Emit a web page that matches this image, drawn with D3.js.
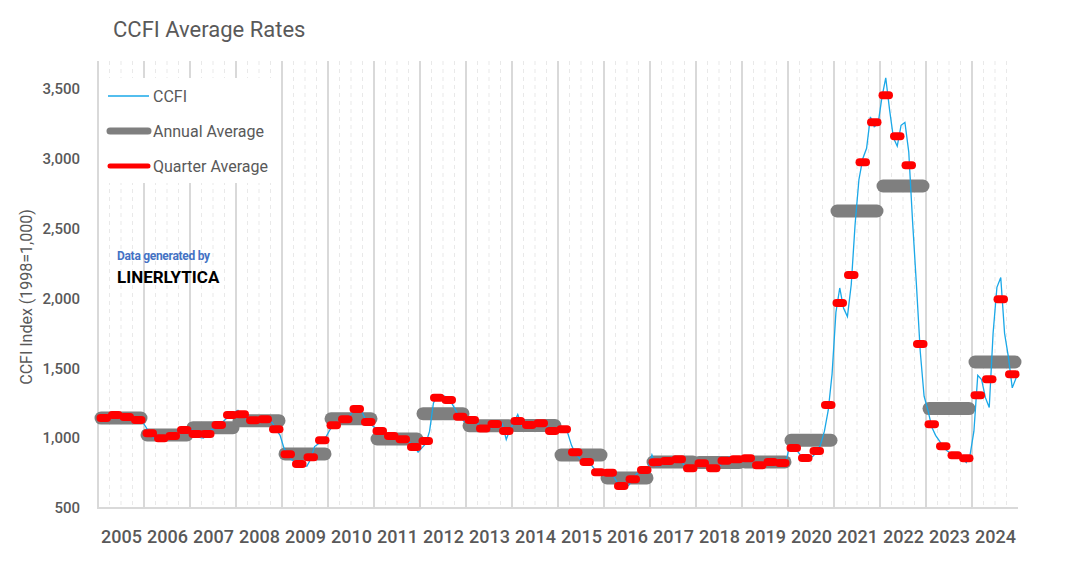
<!DOCTYPE html>
<html>
<head>
<meta charset="utf-8">
<script src="https://cdn.jsdelivr.net/npm/d3@7"></script>
<style>
  html, body { margin: 0; padding: 0; background: #fff; }
  svg { display: block; font-family: Roboto, "DejaVu Sans", sans-serif; }
</style>
</head>
<body>
<svg id="chart" width="1079" height="567"></svg>
<script>
// ---- data ----
const years = [2005,2006,2007,2008,2009,2010,2011,2012,2013,2014,2015,2016,2017,2018,2019,2020,2021,2022,2023,2024];
const yTicks = [500,1000,1500,2000,2500,3000,3500];
const annualAvg = [1144,1023,1075,1125,887,1139,994,1175,1089,1090,879,715,829,825,830,985,2626,2805,1212,1545];
const quarterAvg = [
  1144,1166,1152,1130,
  1035,999,1015,1058,
  1030,1030,1094,1166,
  1171,1128,1135,1063,
  884,815,863,985,
  1092,1135,1209,1116,
  1051,1015,992,937,
  980,1290,1273,1154,
  1130,1070,1101,1051,
  1123,1094,1106,1051,
  1063,899,829,756,
  753,658,705,772,
  827,836,849,784,
  820,784,839,849,
  856,806,829,822,
  930,858,908,1237,
  1968,2168,2975,3261,
  3455,3161,2953,1674,
  1099,942,877,856,
  1307,1421,1994,1457
];
const ccfiMonthly = [
  1150,1120,1160, 1160,1175,1165, 1160,1150,1145, 1140,1130,1120,
  1080,1030,1000, 995,1000,1000, 1005,1015,1025, 1050,1060,1065,
  1060,1025,1005, 1000,1030,1060, 1070,1095,1115, 1140,1170,1185,
  1200,1170,1145, 1130,1125,1130, 1135,1140,1130, 1110,1060,1020,
  930,880,845, 830,815,800, 800,850,940, 960,985,1010,
  1060,1100,1115, 1115,1135,1155, 1190,1225,1210, 1150,1110,1090,
  1070,1050,1035, 1025,1015,1005, 1000,990,985, 965,945,900,
  930,960,1050, 1250,1310,1310, 1300,1280,1240, 1190,1150,1120,
  1130,1135,1125, 1090,1070,1050, 1070,1110,1125, 1100,990,1065,
  1110,1170,1090, 1080,1095,1105, 1100,1115,1105, 1070,1040,1045,
  1070,1080,1040, 950,890,860, 830,840,815, 780,750,740,
  770,760,730, 680,650,645, 665,705,745, 760,770,790,
  880,800,800, 820,840,850, 870,860,820, 790,780,780,
  800,840,820, 800,770,780, 810,840,865, 860,845,840,
  870,850,850, 810,800,808, 820,835,830, 815,810,840,
  950,935,905, 870,850,855, 870,900,955, 1050,1200,1460,
  1900,2075,1930, 1870,2100,2530, 2850,3000,3075, 3300,3230,3250,
  3440,3580,3350, 3150,3090,3240, 3260,3050,2550, 2100,1620,1300,
  1200,1080,1020, 980,935,910, 890,870,870, 860,825,880,
  1050,1450,1420, 1290,1220,1750, 2080,2150,1750, 1580,1360,1430
];

(function () {
// ---- layout ----
const svg = d3.select("#chart");
const pL = 98, pR = 1018, pT = 61, pB = 508;
const x = d3.scaleLinear().domain([2005, 2025]).range([pL, pR]);
const y = d3.scaleLinear().domain([500, 3700]).range([pB, pT]);
const textCol = "#595959";

// quarterly dashed gridlines
const qLines = d3.range(0, 80).filter(i => i % 4 !== 0).map(i => 2005 + i / 4);
svg.append("g").selectAll("line").data(qLines).join("line")
  .attr("x1", d => x(d)).attr("x2", d => x(d))
  .attr("y1", pT).attr("y2", pB)
  .attr("stroke", "#e9e9e9").attr("stroke-width", 1).attr("stroke-dasharray", "4,4");

// yearly solid gridlines
svg.append("g").selectAll("line").data(years).join("line")
  .attr("x1", d => x(d)).attr("x2", d => x(d))
  .attr("y1", pT).attr("y2", pB)
  .attr("stroke", "#d9d9d9").attr("stroke-width", 2);

// baseline
svg.append("line").attr("x1", pL - 1).attr("x2", pR).attr("y1", pB).attr("y2", pB)
  .attr("stroke", "#d9d9d9").attr("stroke-width", 2);

// y axis
const yAxis = svg.append("g").attr("transform", `translate(${pL},0)`)
  .call(d3.axisLeft(y).tickValues(yTicks).tickFormat(d3.format(",")).tickSize(0).tickPadding(18));
yAxis.select(".domain").remove();
yAxis.selectAll("text").attr("fill", textCol).style("font-size", "15px").style("font-weight", "500")
  .style("font-family", "Roboto, sans-serif");

// x axis (labels centered in each year)
const xAxis = svg.append("g").attr("transform", `translate(0,${pB})`)
  .call(d3.axisBottom(x).tickValues(years.map(d => d + 0.5)).tickFormat(d => String(Math.floor(d))).tickSize(0).tickPadding(22));
xAxis.select(".domain").remove();
xAxis.selectAll("text").attr("fill", textCol).style("font-size", "18px").style("font-weight", "500")
  .style("font-family", "Roboto, sans-serif");

// annual average bars
svg.append("g").selectAll("line").data(annualAvg).join("line")
  .attr("x1", (d, i) => x(years[i]) + 3).attr("x2", (d, i) => x(years[i] + 1) - 3)
  .attr("y1", d => y(d)).attr("y2", d => y(d))
  .attr("stroke", "#7f7f7f").attr("stroke-width", 13).attr("stroke-linecap", "round");

// CCFI monthly line
const line = d3.line().x((d, i) => x(2005 + (i + 0.5) / 12)).y(d => y(d));
svg.append("path").datum(ccfiMonthly).attr("d", line)
  .attr("fill", "none").attr("stroke", "#1aa8e8").attr("stroke-width", 1.3);

// quarter average bars
svg.append("g").selectAll("line").data(quarterAvg).join("line")
  .attr("x1", (d, i) => x(2005 + i / 4) + 2.5).attr("x2", (d, i) => x(2005 + (i + 1) / 4) - 2.5)
  .attr("y1", d => y(d)).attr("y2", d => y(d))
  .attr("stroke", "#ff0000").attr("stroke-width", 8).attr("stroke-linecap", "round");

// legend
const lg = svg.append("g");
lg.append("rect").attr("x", 99).attr("y", 78).attr("width", 180).attr("height", 105).attr("fill", "#fff");
const legendItems = [
  { label: "CCFI", color: "#1aa8e8", w: 1.3, cy: 96 },
  { label: "Annual Average", color: "#7f7f7f", w: 7, cy: 131 },
  { label: "Quarter Average", color: "#ff0000", w: 5, cy: 166 }
];
legendItems.forEach(it => {
  lg.append("line").attr("x1", it.w > 2 ? 110 : 108).attr("x2", it.w > 2 ? 148 : 149)
    .attr("y1", it.cy).attr("y2", it.cy)
    .attr("stroke", it.color).attr("stroke-width", it.w).attr("stroke-linecap", it.w > 2 ? "round" : "butt");
  lg.append("text").attr("x", 153).attr("y", it.cy + 6).text(it.label)
    .attr("fill", textCol).style("font-size", "16px");
});

// title
svg.append("text").attr("x", 113).attr("y", 37).text("CCFI Average Rates")
  .attr("fill", textCol).style("font-size", "22px");

// y axis title
svg.append("text").attr("transform", "translate(32,297) rotate(-90)").attr("text-anchor", "middle")
  .text("CCFI Index (1998=1,000)").attr("fill", textCol).style("font-size", "16px");

// watermark
svg.append("text").attr("x", 117).attr("y", 260).text("Data generated by")
  .attr("fill", "#4472c4").style("font-size", "12px").style("font-weight", "700").style("letter-spacing", "-0.3px");
svg.append("text").attr("x", 117).attr("y", 283).text("LINERLYTICA")
  .attr("fill", "#000").style("font-size", "17px").style("font-weight", "700");
})();
</script>
</body>
</html>
